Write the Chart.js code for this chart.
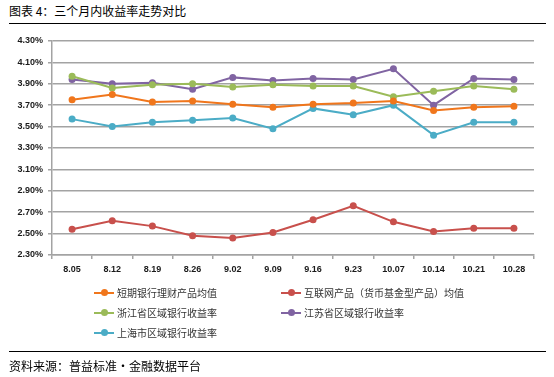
<!DOCTYPE html>
<html>
<head>
<meta charset="utf-8">
<title>三个月内收益率走势对比</title>
<script src="https://cdn.jsdelivr.net/npm/chart.js@4/dist/chart.umd.min.js"></script>
<style>
    body { margin: 0; background: #fff; }
    #wrap { position: relative; width: 554px; height: 377px; overflow: hidden; font-family: "Noto Sans CJK SC", sans-serif; }
    #myChart { position: absolute; left: 0; top: 0; }
    .title { position: absolute; left: 9px; top: 3px; font-size: 12px; color: #000; line-height: 16px; }
    .rule { position: absolute; left: 9px; width: 537px; height: 0; border-top: 1.5px solid #000; }
    .source { position: absolute; left: 9px; top: 358px; font-size: 12px; color: #000; line-height: 16px; }
    .legend-item { position: absolute; font-size: 10px; color: #333; line-height: 14px; white-space: nowrap; }
    .legend-item .mark { position: absolute; left: 0; top: 6px; width: 20px; height: 2px; }
    .legend-item .dot { position: absolute; left: 7px; top: -3px; width: 7px; height: 7px; border-radius: 50%; }
    .legend-item span.txt { position: absolute; left: 23px; top: 0; }
</style>
</head>
<body>
<div id="wrap">
    <div class="title">图表 4：三个月内收益率走势对比</div>
    <div class="rule" style="top:23px"></div>
    <canvas id="myChart" width="554" height="377"></canvas>
    <div id="legend"></div>
    <div class="rule" style="top:351px"></div>
    <div class="source">资料来源：普益标准·金融数据平台</div>
</div>
<script>
//--- Dados
var categories = ['8.05', '8.12', '8.19', '8.26', '9.02', '9.09', '9.16', '9.23', '10.07', '10.14', '10.21', '10.28'];
var shortTermBank = [3.75, 3.80, 3.73, 3.74, 3.71, 3.68, 3.71, 3.72, 3.74, 3.65, 3.68, 3.69];
var internetFund = [2.54, 2.62, 2.57, 2.48, 2.46, 2.51, 2.63, 2.76, 2.61, 2.52, 2.55, 2.55];
var zhejiang = [3.97, 3.86, 3.89, 3.90, 3.87, 3.89, 3.88, 3.88, 3.78, 3.83, 3.88, 3.85];
var jiangsu = [3.94, 3.90, 3.91, 3.85, 3.96, 3.93, 3.95, 3.94, 4.04, 3.70, 3.95, 3.94];
var shanghai = [3.57, 3.50, 3.54, 3.56, 3.58, 3.48, 3.67, 3.61, 3.70, 3.42, 3.54, 3.54];

var seriesNames = ['短期银行理财产品均值', '互联网产品（货币基金型产品）均值', '浙江省区域银行收益率', '江苏省区域银行收益率', '上海市区域银行收益率'];
var seriesData = [shortTermBank, internetFund, zhejiang, jiangsu, shanghai];
var seriesColors = ['#F0761C', '#C8504C', '#9BBB59', '#8064A2', '#4BACC6'];

var yMin = 2.3;
var yMax = 4.3;
var yStep = 0.2;

var gridColor = '#A3A3A3';
var tickFont = { family: 'Liberation Sans', size: 9, weight: 'bold' };

//--- Datasets
var datasets = [];
for (var i = 0; i < seriesData.length; i++) {
    datasets.push({
        label: seriesNames[i],
        data: seriesData[i],
        borderColor: seriesColors[i],
        backgroundColor: seriesColors[i],
        borderWidth: 2,
        pointRadius: 3.5,
        pointHoverRadius: 3.5,
        pointBorderWidth: 0,
        tension: 0
    });
}

//--- Legenda em HTML (duas colunas, como no original)
var legendPos = [
    { left: 94, top: 286 },
    { left: 281, top: 286 },
    { left: 94, top: 306 },
    { left: 281, top: 306 },
    { left: 94, top: 326 }
];
var legendBox = document.getElementById('legend');
for (var j = 0; j < seriesNames.length; j++) {
    var item = document.createElement('div');
    item.className = 'legend-item';
    item.style.left = legendPos[j].left + 'px';
    item.style.top = legendPos[j].top + 'px';
    item.innerHTML = '<div class="mark" style="background:' + seriesColors[j] + '">' +
        '<div class="dot" style="background:' + seriesColors[j] + '"></div></div>' +
        '<span class="txt">' + seriesNames[j] + '</span>';
    legendBox.appendChild(item);
}

//--- Chart
var ctx = document.getElementById('myChart');
new Chart(ctx, {
    type: 'line',
    data: {
        labels: categories,
        datasets: datasets
    },
    options: {
        responsive: false,
        animation: false,
        devicePixelRatio: 1,
        layout: {
            padding: { left: 0, right: 20, top: 41, bottom: 97 }
        },
        plugins: {
            legend: { display: false },
            tooltip: { enabled: false }
        },
        scales: {
            x: {
                offset: true,
                grid: {
                    offset: true,
                    drawOnChartArea: false,
                    drawTicks: true,
                    tickLength: 4,
                    color: gridColor,
                    lineWidth: 1.5
                },
                border: { display: true, color: gridColor, width: 1.5 },
                ticks: {
                    color: '#1a1a1a',
                    font: tickFont,
                    padding: 5,
                    maxRotation: 0,
                    autoSkip: false
                },
                afterFit: function (scale) { scale.height = 25; }
            },
            y: {
                min: yMin,
                max: yMax,
                grid: {
                    color: gridColor,
                    lineWidth: 1.5,
                    drawTicks: true,
                    tickLength: 4
                },
                border: { display: true, color: gridColor, width: 1.5 },
                ticks: {
                    stepSize: yStep,
                    color: '#1a1a1a',
                    font: tickFont,
                    padding: 5,
                    callback: function (value) {
                        return Number(value).toFixed(2) + '%';
                    }
                },
                afterFit: function (scale) { scale.width = 52; }
            }
        }
    }
});
console.log('chart ready');
</script>
</body>
</html>
